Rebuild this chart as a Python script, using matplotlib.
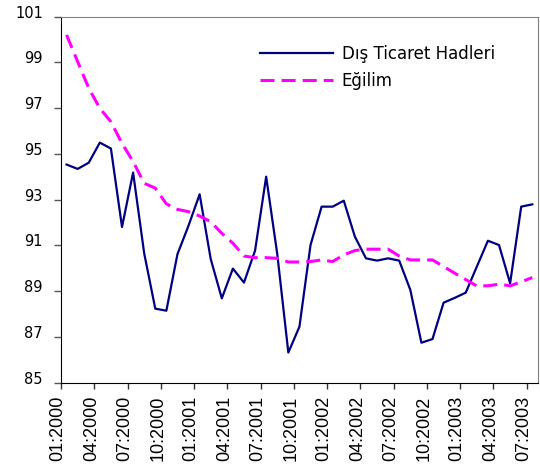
import matplotlib
matplotlib.use("Agg")
import matplotlib.pyplot as plt
import matplotlib.transforms as mtransforms

# monthly index values, 01:2000 - 07:2003
months = [f"{m:02d}:{y}" for y in range(2000, 2004) for m in range(1, 13)][:43]

terms_of_trade = [94.53, 94.34, 94.61, 95.49, 95.23, 91.80, 94.18, 90.65, 88.23, 88.14,
                  90.61, 91.86, 93.23, 90.40, 88.68, 89.98, 89.37, 90.77, 94.00, 90.62,
                  86.31, 87.44, 91.01, 92.69, 92.69, 92.95, 91.38, 90.43, 90.33, 90.43,
                  90.33, 89.05, 86.74, 86.90, 88.49, 88.70, 88.93, 90.07, 91.20, 91.01,
                  89.34, 92.69, 92.79]

trend = [100.2, 99.03, 97.87, 96.99, 96.40, 95.46, 94.66, 93.71, 93.50, 92.81,
         92.57, 92.47, 92.28, 92.03, 91.52, 91.09, 90.53, 90.46, 90.46, 90.43,
         90.27, 90.27, 90.29, 90.36, 90.29, 90.58, 90.77, 90.83, 90.83, 90.83,
         90.53, 90.36, 90.36, 90.36, 90.07, 89.78, 89.50, 89.22, 89.23, 89.30,
         89.23, 89.40, 89.59]

yticks = list(range(85, 102, 2))

fig = plt.figure(figsize=(5.4, 4.74), dpi=100)
ax = fig.add_axes([0.113, 0.193, 0.883, 0.772])

x = list(range(len(months)))
ax.plot(x, terms_of_trade, color="#000080", lw=1.6, label="Dış Ticaret Hadleri")
ax.plot(x, trend, color="#FF00FF", lw=2.2, ls=(0, (4.6, 2.3)), label="Eğilim")

ax.set_xlim(-0.5, len(months) - 0.5)
ax.set_ylim(85, 101)
ax.set_yticks(yticks)
ax.set_yticklabels([str(v) for v in yticks], fontsize=10.5, family="DejaVu Sans")

tick_pos = [i - 0.5 for i in range(0, len(months), 3)]
ax.set_xticks(tick_pos)
ax.set_xticklabels(months[::3], rotation=90, fontsize=13, family="Liberation Sans")
ax.tick_params(axis="y", direction="out", length=5, width=1, color="#555555", pad=8)
ax.tick_params(axis="x", direction="out", length=4.5, width=1, color="#333333", pad=5)

# labels sit a little off their ticks in the original
up = mtransforms.ScaledTranslation(0, 0.05, fig.dpi_scale_trans)
for lbl in ax.get_yticklabels():
    lbl.set_transform(lbl.get_transform() + up)
left = mtransforms.ScaledTranslation(-0.03, 0, fig.dpi_scale_trans)
for lbl in ax.get_xticklabels():
    lbl.set_transform(lbl.get_transform() + left)

for side in ["top", "right"]:
    ax.spines[side].set_color("#808080")
for side in ["left", "bottom"]:
    ax.spines[side].set_color("black")

ax.legend(loc="upper left", bbox_to_anchor=(0.403, 0.94), borderaxespad=0, frameon=False,
          prop={"family": "DejaVu Sans", "size": 12}, handlelength=4.4, handletextpad=0.5,
          labelspacing=0.5)

fig.savefig("out.png", dpi=100)
